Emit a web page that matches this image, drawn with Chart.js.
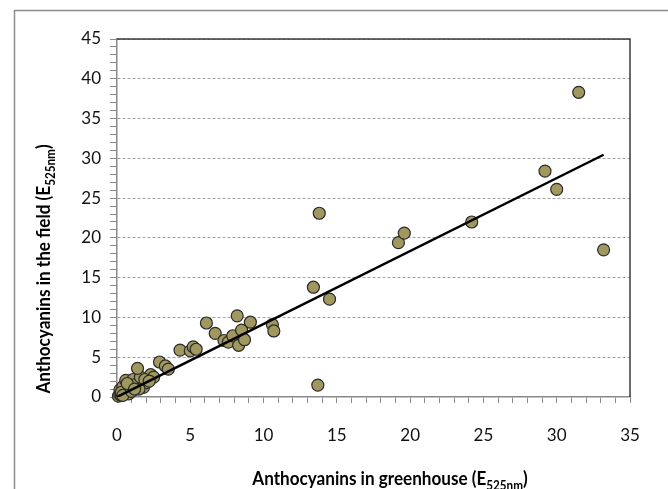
<!DOCTYPE html>
<html>
<head>
<meta charset="utf-8">
<script src="https://cdn.jsdelivr.net/npm/chart.js@4"></script>
<style>
  html, body { margin: 0; padding: 0; background: #fff; }
  #wrap { width: 668px; height: 489px; position: relative; overflow: hidden; }
</style>
</head>
<body>
<div id="wrap"><canvas id="chart" width="668" height="489"></canvas></div>
<script>
// anthocyanin content, greenhouse (x) vs field (y), E525nm
const greenhouse = [0.1, 0.2, 0.3, 0.2, 0.5, 0.4, 0.7, 0.9, 0.6, 1.1, 1.1, 1.3, 1.6, 1.8, 1.4, 2.0, 2.3, 2.5, 0.3, 0.8, 1.5,
                    0.4, 1.0, 1.9, 2.2, 0.7, 1.2,
                    2.9, 3.3, 3.5, 4.3, 5.0, 5.2, 5.4, 6.1, 6.7, 7.3, 7.6, 7.9, 8.3, 8.5, 8.7, 8.2, 9.1, 10.6, 10.7,
                    13.4, 13.8, 13.7, 14.5, 19.2, 19.6, 24.2, 29.2, 30.0, 31.5, 33.2];
const field      = [0.1, 0.3, 0.2, 0.9, 0.5, 1.3, 0.6, 1.3, 2.1, 1.0, 2.2, 1.6, 2.5, 1.2, 3.6, 1.8, 2.8, 2.5, 0.6, 0.4, 1.0,
                    0.2, 0.7, 2.2, 2.0, 1.7, 1.0,
                    4.4, 3.9, 3.5, 5.9, 5.8, 6.3, 6.0, 9.3, 8.0, 7.1, 6.9, 7.7, 6.5, 8.4, 7.2, 10.2, 9.4, 9.1, 8.3,
                    13.8, 23.1, 1.5, 12.3, 19.4, 20.6, 22.0, 28.4, 26.1, 38.3, 18.5];

// fitted line end points
const trendX = [0, 33.2];
const trendY = [0, 30.45];

const xRange = [0, 35];
const yRange = [0, 45];
const majorStep = 5;
const minorStep = 1;

const points = greenhouse.map((x, i) => ({ x: x, y: field[i] }));
const trend = trendX.map((x, i) => ({ x: x, y: trendY[i] }));

const axisGray = '#8a8a8a';
const fontFamily = 'Lato, "Open Sans", sans-serif';

function drawSubText(ctx, main, sub, tail, size) {
    const big = 'bold ' + size + 'px ' + fontFamily;
    const small = 'bold ' + Math.round(size * 0.66) + 'px ' + fontFamily;
    ctx.font = big;
    const w1 = ctx.measureText(main).width;
    const w3 = ctx.measureText(tail).width;
    ctx.font = small;
    const w2 = ctx.measureText(sub).width;
    let x = -(w1 + w2 + w3) / 2;
    ctx.textAlign = 'left';
    ctx.textBaseline = 'alphabetic';
    ctx.fillStyle = '#000';
    ctx.font = big;
    ctx.fillText(main, x, 0);
    x += w1;
    ctx.font = small;
    ctx.fillText(sub, x, size * 0.28);
    x += w2;
    ctx.font = big;
    ctx.fillText(tail, x, 0);
}

const framePlugin = {
    id: 'frame',
    beforeDraw(chart) {
        const ctx = chart.ctx;
        ctx.save();
        ctx.strokeStyle = '#8c8c8c';
        ctx.lineWidth = 1.5;
        ctx.strokeRect(14.5, 10.5, 700, 600);
        ctx.restore();
    },
    afterDatasetsDraw(chart) {
        const a = chart.chartArea;
        const ctx = chart.ctx;
        ctx.save();
        ctx.strokeStyle = '#3a3a3a';
        ctx.lineWidth = 1.5;
        ctx.beginPath();
        ctx.moveTo(a.left, a.top);
        ctx.lineTo(a.right, a.top);
        ctx.lineTo(a.right, a.bottom);
        ctx.stroke();
        ctx.restore();
    },
    afterDraw(chart) {
        const ctx = chart.ctx;
        ctx.save();
        ctx.translate(50, 269);
        ctx.rotate(-Math.PI / 2);
        ctx.scale(0.9, 1);
        drawSubText(ctx, 'Anthocyanins in the field (E', '525nm', ')', 19);
        ctx.restore();
        ctx.save();
        ctx.translate(390, 485);
        ctx.scale(0.9, 1);
        drawSubText(ctx, 'Anthocyanins in greenhouse (E', '525nm', ')', 19);
        ctx.restore();
    }
};

new Chart(document.getElementById('chart').getContext('2d'), {
    type: 'scatter',
    data: {
        datasets: [{
            label: 'Samples',
            data: points,
            order: 2,
            clip: false,
            pointRadius: 6,
            pointBackgroundColor: '#a0985f',
            pointBorderColor: '#2b2b2b',
            pointBorderWidth: 1.2
        }, {
            label: 'Linear fit',
            type: 'line',
            data: trend,
            order: 1,
            showLine: true,
            borderColor: '#000',
            borderWidth: 2.5,
            pointRadius: 0,
            fill: false
        }]
    },
    options: {
        responsive: false,
        animation: false,
        devicePixelRatio: 1,
        layout: { padding: { left: 0, top: 39, right: 38, bottom: 0 } },
        plugins: {
            legend: { display: false },
            tooltip: { enabled: false }
        },
        scales: {
            x: {
                type: 'linear',
                min: xRange[0],
                max: xRange[1],
                afterFit(scale) { scale.height = 92; },
                border: { color: axisGray, width: 1.5 },
                grid: {
                    drawOnChartArea: false,
                    tickLength: 6,
                    tickColor: axisGray,
                    tickWidth: 1
                },
                ticks: {
                    stepSize: minorStep,
                    autoSkip: false,
                    maxRotation: 0,
                    padding: 22,
                    color: '#111',
                    font: { family: fontFamily, size: 17 },
                    callback: (v) => (v % majorStep === 0 ? v : '')
                }
            },
            y: {
                type: 'linear',
                min: yRange[0],
                max: yRange[1],
                afterFit(scale) { scale.width = 117; },
                border: { color: axisGray, width: 1.5, dash: [3, 2] },
                grid: {
                    color: (c) => (c.tick && c.tick.value % majorStep === 0 && c.tick.value !== 0 ? '#a0a0a0' : 'transparent'),
                    lineWidth: 1,
                    tickLength: 7,
                    tickColor: axisGray,
                    tickWidth: 1
                },
                ticks: {
                    stepSize: minorStep,
                    autoSkip: false,
                    padding: 9,
                    color: '#111',
                    font: { family: fontFamily, size: 17 },
                    callback: (v) => (v % majorStep === 0 ? v : '')
                }
            }
        }
    },
    plugins: [framePlugin]
});
</script>
</body>
</html>
